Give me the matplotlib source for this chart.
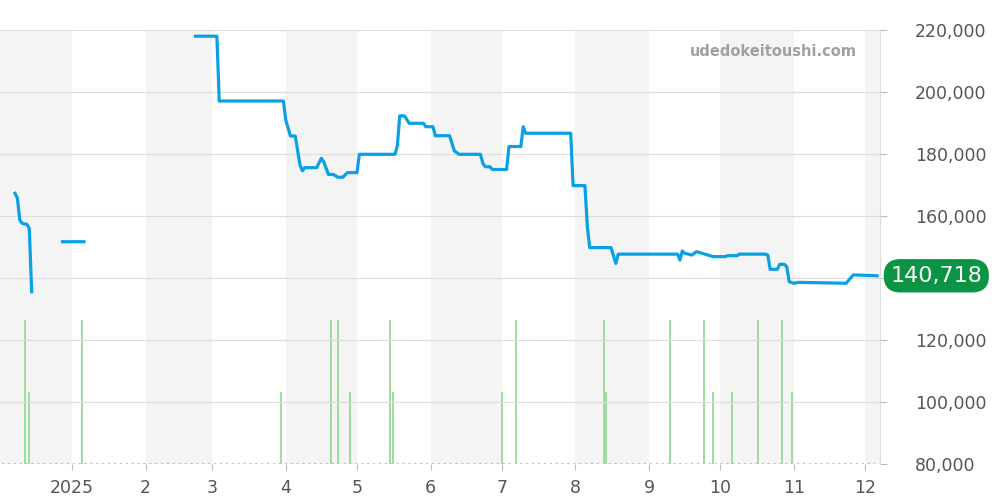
import matplotlib.pyplot as plt
import matplotlib.transforms as mtransforms
import matplotlib.ticker as mticker
import pandas as pd
import numpy as np

# price series (NaN = gap)
price_dates = [
    '2024-12-08', '2024-12-09', '2024-12-10', '2024-12-11', '2024-12-13', '2024-12-14', '2024-12-15',
    '2024-12-16',
    '2024-12-28', '2025-01-06',
    '2025-01-07',
    '2025-02-22', '2025-03-03', '2025-03-04', '2025-03-31', '2025-04-01', '2025-04-03', '2025-04-05',
    '2025-04-07', '2025-04-08', '2025-04-09', '2025-04-14', '2025-04-16', '2025-04-17', '2025-04-19',
    '2025-04-21', '2025-04-23', '2025-04-25', '2025-04-27', '2025-05-01', '2025-05-02', '2025-05-17',
    '2025-05-18', '2025-05-19', '2025-05-21', '2025-05-23', '2025-05-29', '2025-05-30', '2025-06-02',
    '2025-06-03', '2025-06-09', '2025-06-11', '2025-06-13', '2025-06-22', '2025-06-23', '2025-06-24',
    '2025-06-26', '2025-06-27', '2025-07-03', '2025-07-04', '2025-07-09', '2025-07-10', '2025-07-11',
    '2025-07-30', '2025-07-31', '2025-08-05', '2025-08-06', '2025-08-07', '2025-08-16', '2025-08-18',
    '2025-08-19', '2025-09-13', '2025-09-14', '2025-09-15', '2025-09-16', '2025-09-19', '2025-09-21',
    '2025-09-28', '2025-10-03', '2025-10-04', '2025-10-08', '2025-10-09', '2025-10-20', '2025-10-21',
    '2025-10-22', '2025-10-25', '2025-10-26', '2025-10-28', '2025-10-29', '2025-10-30', '2025-11-01',
    '2025-11-03', '2025-11-23', '2025-11-26', '2025-12-06',
]
prices = [
    167300, 165700, 158700, 157600, 157300, 156000, 135600,
    np.nan,
    151700, 151700,
    np.nan,
    218000, 218000, 197100, 197100, 191000, 185800, 185800,
    176450, 174600, 175600, 175600, 178600, 177500, 173400,
    173400, 172500, 172500, 174000, 174000, 179900, 179900,
    182600, 192300, 192300, 189900, 189900, 188800, 188800,
    185900, 185900, 181000, 179900, 179900, 177000, 175900,
    175900, 175000, 175000, 182400, 182400, 188800, 186700,
    186700, 169800, 169800, 156550, 149800, 149800, 144700,
    147700, 147700, 145800, 148700, 148000, 147400, 148500,
    146900, 146900, 147200, 147200, 147700, 147700, 147400,
    142800, 142800, 144400, 144400, 143600, 138800, 138300,
    138600, 138300, 141000, 140718,
]
last_price = 140718

# transactions (count per day)
vol_dates = [
    '2024-12-12', '2024-12-14', '2025-01-05', '2025-03-30', '2025-04-20', '2025-04-23', '2025-04-28',
    '2025-05-15', '2025-05-16', '2025-07-01', '2025-07-07', '2025-08-13', '2025-08-14', '2025-09-10',
    '2025-09-24', '2025-09-28', '2025-10-06', '2025-10-17', '2025-10-27', '2025-10-31',
]
volumes = [2, 1, 2, 1, 2, 2, 1, 2, 1, 1, 2, 2, 1, 2, 2, 1, 1, 2, 2, 1]

tick_dates = ['2025-01-01', '2025-02-01', '2025-03-01', '2025-04-01', '2025-05-01', '2025-06-01',
              '2025-07-01', '2025-08-01', '2025-09-01', '2025-10-01', '2025-11-01', '2025-12-01']
tick_labels = ['2025', '2', '3', '4', '5', '6', '7', '8', '9', '10', '11', '12']
shade_months = ['2024-12-01', '2025-02-01', '2025-04-01', '2025-06-01', '2025-08-01',
                '2025-10-01', '2025-12-01']

price_dates = pd.to_datetime(price_dates)
vol_dates = pd.to_datetime(vol_dates)
tick_dates = pd.to_datetime(tick_dates)
xmin = pd.Timestamp('2024-12-01 16:00')
xmax = pd.Timestamp('2025-12-07 06:00')

fig = plt.figure(figsize=(10, 5), dpi=100)
ax = fig.add_axes([0, 0.072, 0.88, 0.868])
axv = ax.twinx()
axv.set_zorder(ax.get_zorder() - 1)
ax.patch.set_visible(False)

# month shading
for m in shade_months:
    start = pd.Timestamp(m)
    end = start + pd.offsets.MonthBegin(1)
    axv.axvspan(start, end, color='#f4f4f4', lw=0, zorder=0)

# volume bars
axv.bar(vol_dates, volumes, width=0.85, color='#9edd9e', lw=0, zorder=2)
axv.plot([xmin + pd.Timedelta(days=1), xmax - pd.Timedelta(days=2)], [0, 0],
         ls=':', color='#9edd9e', lw=1.6, zorder=2)
axv.set_ylim(0, 6.03)
axv.yaxis.set_visible(False)
for s in axv.spines.values():
    s.set_visible(False)

# price line
ax.plot(price_dates, prices, color='#0aa0e6', lw=2.3, zorder=5, solid_joinstyle='round')
ax.set_xlim(xmin, xmax)
ax.set_ylim(80000, 220000)
ax.yaxis.tick_right()
ax.set_yticks(range(80000, 220001, 20000))
# the 140,000 label sits under the last-price badge
ax.yaxis.set_major_formatter(mticker.FuncFormatter(lambda v, p: '' if v == 140000 else f'{int(v):,}'))
ax.grid(axis='y', color='#dddddd', lw=0.8)
ax.set_axisbelow(True)
ax.set_xticks(tick_dates)
ax.set_xticklabels(tick_labels)
ax.tick_params(axis='y', colors='#bbbbbb', labelcolor='#555555', labelsize=12.5, length=5, pad=20)
ax.tick_params(axis='x', colors='#bbbbbb', labelcolor='#555555', labelsize=12.5, length=4, pad=7)
for side in ['top', 'left', 'bottom']:
    ax.spines[side].set_visible(False)
ax.spines['right'].set_color('#dddddd')

# last price label
trans = mtransforms.blended_transform_factory(ax.transAxes, ax.transData)
ax.text(1.064, last_price, f'{last_price:,}', transform=trans, ha='center', va='center',
        fontsize=16, color='white', clip_on=False,
        bbox=dict(boxstyle='round,pad=0.3,rounding_size=0.75', fc='#0b9444', ec='none'))

fig.text(0.857, 0.896, 'udedokeitoushi.com', ha='right', va='center', fontsize=10.5,
         fontweight='bold', color='#a0a0a0')

fig.savefig('out.png', dpi=100, facecolor='white')
